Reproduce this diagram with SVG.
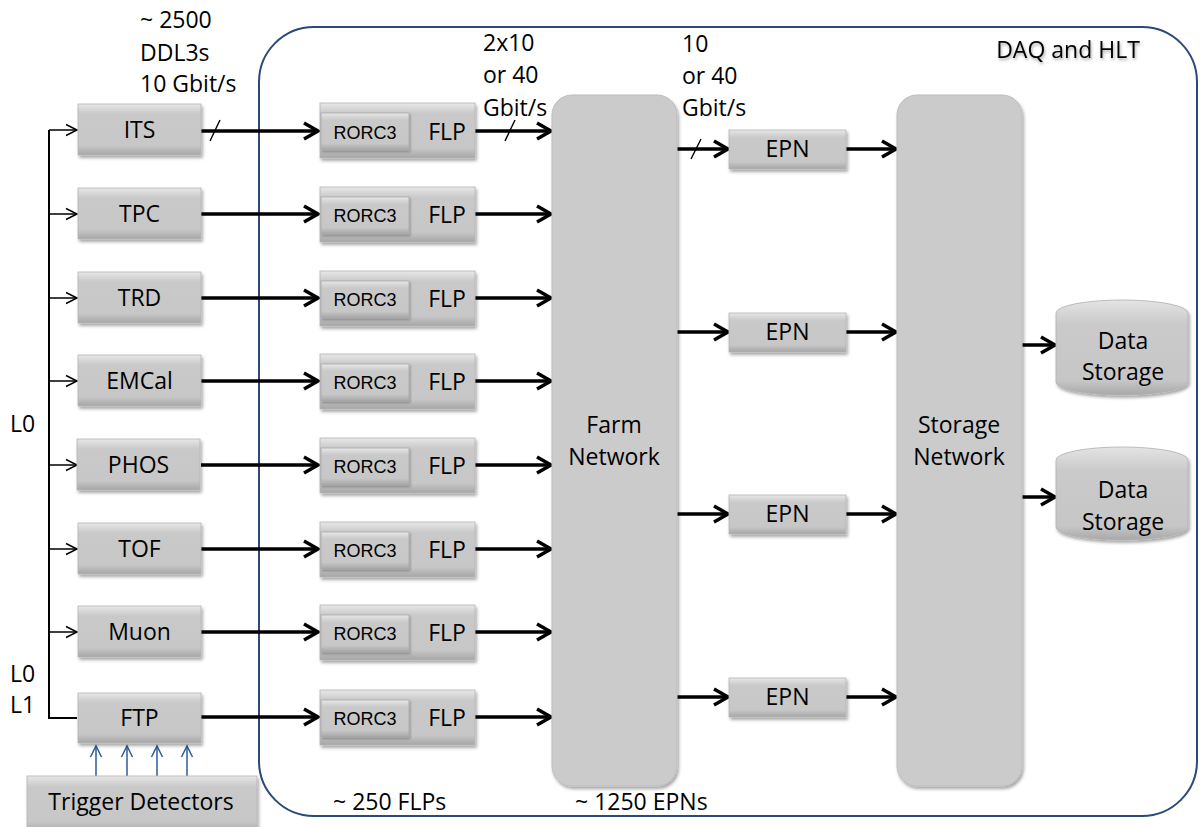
<svg xmlns="http://www.w3.org/2000/svg" width="1201" height="827" viewBox="0 0 1201 827">
<defs>
<style>
.t{font-family:"Open Sans","Liberation Sans",sans-serif;font-size:23px;fill:#000}
.tc{font-family:"Open Sans","Liberation Sans",sans-serif;font-size:23px;fill:#000;text-anchor:middle}
.r3{font-family:"Liberation Sans",Arial,sans-serif;font-size:18px;fill:#000;text-anchor:middle}
.box{fill:url(#bev);stroke:#B4B4B4;stroke-width:0.8;filter:url(#sh)}
.inner{fill:url(#bev);stroke:#A8A8A8;stroke-width:0.8;filter:url(#sh2)}
.net{fill:#CBCBCB;stroke:#BDBDBD;stroke-width:1;filter:url(#sh)}
.thick{stroke:#000;stroke-width:3.5;fill:none;marker-end:url(#ah)}
.thin{stroke:#000;stroke-width:1.5;fill:none;marker-end:url(#ahs)}
.blue{stroke:#2F5A96;stroke-width:1.5;fill:none;marker-end:url(#ahb)}
.tick{stroke:#000;stroke-width:1.4;fill:none}
</style>
<linearGradient id="bev" x1="0" y1="0" x2="0" y2="1">
<stop offset="0" stop-color="#E8E8E8"/>
<stop offset="0.12" stop-color="#D4D4D4"/>
<stop offset="0.2" stop-color="#C9C9C9"/>
<stop offset="0.82" stop-color="#C7C7C7"/>
<stop offset="1" stop-color="#A6A6A6"/>
</linearGradient>
<linearGradient id="cyl" x1="0" y1="0" x2="0" y2="1">
<stop offset="0" stop-color="#E4E4E4"/>
<stop offset="0.25" stop-color="#CACACA"/>
<stop offset="0.85" stop-color="#C6C6C6"/>
<stop offset="1" stop-color="#A8A8A8"/>
</linearGradient>
<filter id="sh" x="-20%" y="-20%" width="140%" height="140%">
<feDropShadow dx="1.5" dy="2.5" stdDeviation="1.8" flood-color="#000" flood-opacity="0.35"/>
</filter>
<filter id="sh2" x="-20%" y="-20%" width="140%" height="140%">
<feDropShadow dx="1" dy="1.5" stdDeviation="1" flood-color="#000" flood-opacity="0.3"/>
</filter>
<filter id="tsh" x="-10%" y="-30%" width="120%" height="160%">
<feDropShadow dx="1" dy="2" stdDeviation="1.5" flood-color="#000" flood-opacity="0.35"/>
</filter>
<marker id="ah" markerUnits="userSpaceOnUse" markerWidth="22" markerHeight="22" viewBox="0 0 22 22" refX="18" refY="11" orient="auto">
<path d="M4,3 L18,11 L4,19" fill="none" stroke="#000" stroke-width="3.5"/>
</marker>
<marker id="ahs" markerUnits="userSpaceOnUse" markerWidth="16" markerHeight="16" viewBox="0 0 16 16" refX="13" refY="8" orient="auto">
<path d="M2,2.5 L13,8 L2,13.5" fill="none" stroke="#000" stroke-width="1.5"/>
</marker>
<marker id="ahb" markerUnits="userSpaceOnUse" markerWidth="16" markerHeight="16" viewBox="0 0 16 16" refX="13" refY="8" orient="auto">
<path d="M2,2.5 L13,8 L2,13.5" fill="none" stroke="#2F5A96" stroke-width="1.5"/>
</marker>
</defs>
<rect width="1201" height="827" fill="#FFFFFF"/>

<g id="daq-hlt">
<rect x="259" y="27" width="938" height="789" rx="55" ry="55" fill="none" stroke="#2B4A7A" stroke-width="2"/>
<text class="tc" x="1068" y="58" filter="url(#tsh)">DAQ and HLT</text>
</g>

<g id="labels">
<text class="t" x="140" y="28">~ 2500</text>
<text class="t" x="140" y="61">DDL3s</text>
<text class="t" x="140" y="92">10 Gbit/s</text>
<text class="t" x="483" y="51">2x10</text>
<text class="t" x="483" y="83">or 40</text>
<text class="t" x="483" y="116">Gbit/s</text>
<text class="t" x="682" y="52">10</text>
<text class="t" x="682" y="84">or 40</text>
<text class="t" x="682" y="116">Gbit/s</text>
<text class="t" x="10" y="432">L0</text>
<text class="t" x="10" y="682">L0</text>
<text class="t" x="10" y="713">L1</text>
<text class="t" x="333" y="810">~ 250 FLPs</text>
<text class="t" x="575" y="810">~ 1250 EPNs</text>
</g>

<g id="connectors">
<path d="M77,718 H49 V130" fill="none" stroke="#000" stroke-width="2"/>
<line class="thin" x1="49" y1="130" x2="77" y2="130"/>
<line class="thin" x1="49" y1="214" x2="77" y2="214"/>
<line class="thin" x1="49" y1="298" x2="77" y2="298"/>
<line class="thin" x1="49" y1="381" x2="77" y2="381"/>
<line class="thin" x1="49" y1="465" x2="77" y2="465"/>
<line class="thin" x1="49" y1="549" x2="77" y2="549"/>
<line class="thin" x1="49" y1="632" x2="77" y2="632"/>
<line class="blue" x1="96" y1="776" x2="96" y2="746"/>
<line class="blue" x1="127" y1="776" x2="127" y2="746"/>
<line class="blue" x1="157" y1="776" x2="157" y2="746"/>
<line class="blue" x1="187" y1="776" x2="187" y2="746"/>

<line class="thick" x1="201" y1="131" x2="318" y2="131"/>
<line class="thick" x1="201" y1="214" x2="318" y2="214"/>
<line class="thick" x1="201" y1="298" x2="318" y2="298"/>
<line class="thick" x1="201" y1="381" x2="318" y2="381"/>
<line class="thick" x1="201" y1="465" x2="318" y2="465"/>
<line class="thick" x1="201" y1="549" x2="318" y2="549"/>
<line class="thick" x1="201" y1="632" x2="318" y2="632"/>
<line class="thick" x1="201" y1="717" x2="318" y2="717"/>

<line class="thick" x1="475" y1="131" x2="551" y2="131"/>
<line class="thick" x1="475" y1="214" x2="551" y2="214"/>
<line class="thick" x1="475" y1="298" x2="551" y2="298"/>
<line class="thick" x1="475" y1="381" x2="551" y2="381"/>
<line class="thick" x1="475" y1="465" x2="551" y2="465"/>
<line class="thick" x1="475" y1="549" x2="551" y2="549"/>
<line class="thick" x1="475" y1="632" x2="551" y2="632"/>
<line class="thick" x1="475" y1="717" x2="551" y2="717"/>

<line class="thick" x1="677" y1="149" x2="728" y2="149"/>
<line class="thick" x1="677" y1="332" x2="728" y2="332"/>
<line class="thick" x1="677" y1="514" x2="728" y2="514"/>
<line class="thick" x1="677" y1="697" x2="728" y2="697"/>

<line class="thick" x1="846" y1="149" x2="896" y2="149"/>
<line class="thick" x1="846" y1="332" x2="896" y2="332"/>
<line class="thick" x1="846" y1="514" x2="896" y2="514"/>
<line class="thick" x1="846" y1="697" x2="896" y2="697"/>

<line class="thick" x1="1022" y1="345" x2="1055" y2="345"/>
<line class="thick" x1="1022" y1="497" x2="1055" y2="497"/>

<line class="tick" x1="210" y1="141" x2="220" y2="120"/>
<line class="tick" x1="505" y1="141" x2="515" y2="120"/>
<line class="tick" x1="691" y1="159" x2="701" y2="139"/>
</g>

<g id="det-its"><rect class="box" x="78" y="104" width="123" height="51"/><text class="tc" x="139.5" y="138">ITS</text></g>
<g id="det-tpc"><rect class="box" x="78" y="188" width="123" height="51"/><text class="tc" x="139.5" y="222">TPC</text></g>
<g id="det-trd"><rect class="box" x="78" y="272" width="123" height="51"/><text class="tc" x="139.5" y="306">TRD</text></g>
<g id="det-emcal"><rect class="box" x="78" y="355" width="123" height="51"/><text class="tc" x="139.5" y="389">EMCal</text></g>
<g id="det-phos"><rect class="box" x="77" y="439" width="123" height="51"/><text class="tc" x="138.5" y="473">PHOS</text></g>
<g id="det-tof"><rect class="box" x="78" y="523" width="123" height="51"/><text class="tc" x="139.5" y="557">TOF</text></g>
<g id="det-muon"><rect class="box" x="78" y="606" width="123" height="51"/><text class="tc" x="139.5" y="640">Muon</text></g>
<g id="det-ftp"><rect class="box" x="78" y="693" width="123" height="50"/><text class="tc" x="139.5" y="726">FTP</text></g>
<g id="trigger-detectors"><rect class="box" x="27" y="776" width="230" height="56"/><text class="tc" x="141" y="810">Trigger Detectors</text></g>

<g id="flp-1"><rect class="box" x="320" y="103" width="155" height="55"/><rect class="inner" x="321" y="113" width="88" height="37"/><text class="r3" x="365" y="139">RORC3</text><text class="tc" x="447" y="140">FLP</text></g>
<g id="flp-2"><rect class="box" x="320" y="187" width="155" height="55"/><rect class="inner" x="321" y="197" width="88" height="37"/><text class="r3" x="365" y="222">RORC3</text><text class="tc" x="447" y="223">FLP</text></g>
<g id="flp-3"><rect class="box" x="320" y="271" width="155" height="55"/><rect class="inner" x="321" y="281" width="88" height="37"/><text class="r3" x="365" y="306">RORC3</text><text class="tc" x="447" y="307">FLP</text></g>
<g id="flp-4"><rect class="box" x="320" y="354" width="155" height="55"/><rect class="inner" x="321" y="364" width="88" height="37"/><text class="r3" x="365" y="389">RORC3</text><text class="tc" x="447" y="390">FLP</text></g>
<g id="flp-5"><rect class="box" x="320" y="438" width="155" height="55"/><rect class="inner" x="321" y="448" width="88" height="37"/><text class="r3" x="365" y="473">RORC3</text><text class="tc" x="447" y="474">FLP</text></g>
<g id="flp-6"><rect class="box" x="320" y="522" width="155" height="55"/><rect class="inner" x="321" y="532" width="88" height="37"/><text class="r3" x="365" y="557">RORC3</text><text class="tc" x="447" y="558">FLP</text></g>
<g id="flp-7"><rect class="box" x="320" y="605" width="155" height="55"/><rect class="inner" x="321" y="615" width="88" height="37"/><text class="r3" x="365" y="640">RORC3</text><text class="tc" x="447" y="641">FLP</text></g>
<g id="flp-8"><rect class="box" x="320" y="690" width="155" height="55"/><rect class="inner" x="321" y="700" width="88" height="37"/><text class="r3" x="365" y="725">RORC3</text><text class="tc" x="447" y="726">FLP</text></g>

<g id="farm-network"><rect class="net" x="552" y="95" width="125" height="691" rx="20" ry="20"/><text class="tc" x="614" y="433">Farm</text><text class="tc" x="614" y="465">Network</text></g>

<g id="epn-1"><rect class="box" x="729" y="130" width="117" height="39"/><text class="tc" x="787.5" y="157">EPN</text></g>
<g id="epn-2"><rect class="box" x="729" y="313" width="117" height="39"/><text class="tc" x="787.5" y="340">EPN</text></g>
<g id="epn-3"><rect class="box" x="729" y="495" width="117" height="39"/><text class="tc" x="787.5" y="522">EPN</text></g>
<g id="epn-4"><rect class="box" x="729" y="678" width="117" height="39"/><text class="tc" x="787.5" y="705">EPN</text></g>

<g id="storage-network"><rect class="net" x="897" y="95" width="125" height="691" rx="20" ry="20"/><text class="tc" x="959" y="433">Storage</text><text class="tc" x="959" y="465">Network</text></g>

<g id="data-storage-1"><path d="M1056,313 A66,13 0 0 1 1188,313 V382 A66,13 0 0 1 1056,382 Z" fill="url(#cyl)" stroke="#B0B0B0" stroke-width="0.8" filter="url(#sh)"/><text class="tc" x="1123" y="349">Data</text><text class="tc" x="1123" y="380">Storage</text></g>
<g id="data-storage-2"><path d="M1056,460 A66,13 0 0 1 1188,460 V527 A66,13 0 0 1 1056,527 Z" fill="url(#cyl)" stroke="#B0B0B0" stroke-width="0.8" filter="url(#sh)"/><text class="tc" x="1123" y="498">Data</text><text class="tc" x="1123" y="530">Storage</text></g>
</svg>
